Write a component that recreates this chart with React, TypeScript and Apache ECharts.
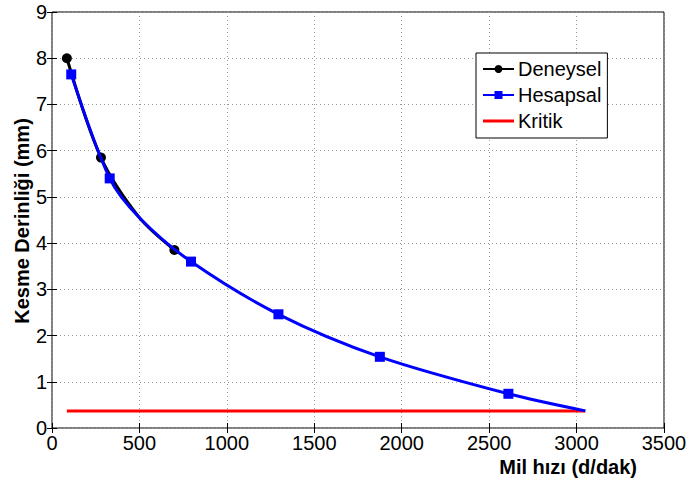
import React, { useEffect, useRef } from "react";
import * as echarts from "echarts";

const deneyselX = [85, 280, 500, 700];
const deneyselY = [8.0, 5.85, 4.55, 3.85];
const deneyselMarked = [true, true, false, true];
const hesapsalX = [110, 330, 500, 795, 1295, 1875, 2610, 3050];
const hesapsalY = [7.65, 5.4, 4.55, 3.6, 2.46, 1.54, 0.74, 0.37];
const hesapsalMarked = [true, true, false, true, true, true, true, false];
const kritikX = [85, 3050];
const kritikY = [0.37, 0.37];
const xTitle = "Mil hızı (d/dak)";
const yTitle = "Kesme Derinliği (mm)";

const FONT = "Liberation Sans, Arial, sans-serif";

export default function App() {
  const ref = useRef<HTMLDivElement>(null);
  useEffect(() => {
    if (!ref.current) return;
    const chart = echarts.init(ref.current, undefined, { renderer: "svg" });
    const gridLine = { show: true, lineStyle: { color: "#9a9a9a", type: [1, 3] as any, width: 1 } };
    const tick = { show: true, inside: true, length: 5, lineStyle: { color: "#000" } };
    chart.setOption({
      animation: false,
      backgroundColor: "#fff",
      grid: { left: 52, right: 27, top: 12, bottom: 55, show: true, borderColor: "#000", borderWidth: 1, containLabel: false },
      xAxis: [
        {
          type: "value", min: 0, max: 3500, interval: 500,
          axisLine: { show: false },
          axisTick: tick,
          axisLabel: { color: "#000", fontSize: 20, fontFamily: FONT, margin: 5, formatter: (v: number) => String(v) },
          splitLine: gridLine,
        },
        {
          type: "value", min: 0, max: 3500, interval: 500, position: "top",
          axisLine: { show: false }, axisTick: tick,
          axisLabel: { show: false }, splitLine: { show: false },
        },
      ],
      yAxis: [
        {
          type: "value", min: 0, max: 9, interval: 1,
          axisLine: { show: false },
          axisTick: tick,
          axisLabel: { color: "#000", fontSize: 20, fontFamily: FONT, margin: 5, formatter: (v: number) => String(v) },
          splitLine: gridLine,
        },
        {
          type: "value", min: 0, max: 9, interval: 1, position: "right",
          axisLine: { show: false }, axisTick: tick,
          axisLabel: { show: false }, splitLine: { show: false },
        },
      ],
      legend: {
        left: 476, top: 53, orient: "vertical",
        data: [
          { name: "Deneysel" },
          { name: "Hesapsal" },
          { name: "Kritik", icon: "path://M0,0h31v3h-31z" },
        ],
        backgroundColor: "#fff", borderColor: "#000", borderWidth: 1,
        padding: [5, 6, 6, 6], itemWidth: 31, itemHeight: 10, itemGap: 4,
        textStyle: { color: "#000", fontSize: 20, fontFamily: FONT, lineHeight: 22, padding: [0, 0, 0, -1] },
      },
      graphic: [
        {
          type: "text", right: 54, top: 457,
          style: { text: xTitle, fill: "#000", font: "bold 20px " + FONT },
        },
        {
          type: "text", x: 22, y: 221, rotation: Math.PI / 2,
          style: { text: yTitle, fill: "#000", font: "bold 20px " + FONT, align: "center", verticalAlign: "middle" },
        },
      ],
      series: [
        {
          name: "Deneysel", type: "line", smooth: 0.3, z: 2,
          data: deneyselX.map((x, i) => ({ value: [x, deneyselY[i]], symbol: deneyselMarked[i] ? "circle" : "none" })),
          symbol: "circle", symbolSize: 10,
          lineStyle: { color: "#000", width: 3 },
          itemStyle: { color: "#000" },
        },
        {
          name: "Hesapsal", type: "line", smooth: 0.3, z: 3,
          data: hesapsalX.map((x, i) => ({ value: [x, hesapsalY[i]], symbol: hesapsalMarked[i] ? "rect" : "none" })),
          symbol: "rect", symbolSize: 10,
          lineStyle: { color: "#0000ff", width: 3 },
          itemStyle: { color: "#0000ff" },
        },
        {
          name: "Kritik", type: "line", z: 2,
          data: kritikX.map((x, i) => [x, kritikY[i]]),
          symbol: "none",
          lineStyle: { color: "#ff0000", width: 3 },
          itemStyle: { color: "#ff0000" },
        },
      ],
    });
    return () => chart.dispose();
  }, []);
  return <div ref={ref} style={{ position: "fixed", left: 0, top: 0, width: 691, height: 483 }} />;
}
